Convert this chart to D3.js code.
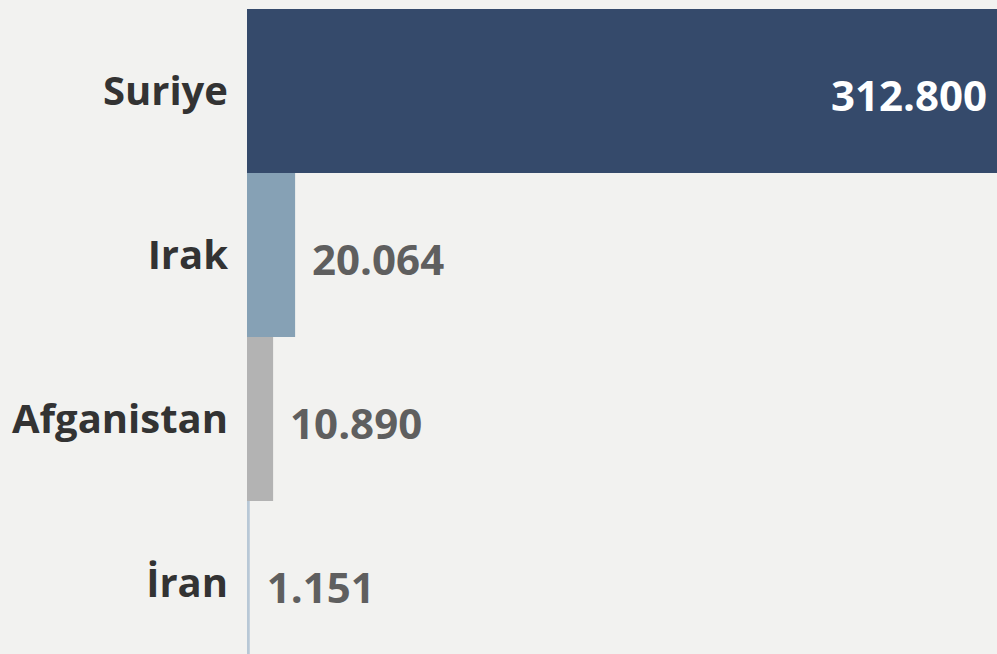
<!DOCTYPE html>
<html><head><meta charset="utf-8">
<script src="https://cdn.jsdelivr.net/npm/d3@7"></script>
<style>
html,body{margin:0;padding:0;background:#f2f2f0;overflow:hidden;}
svg{display:block;}
text{font-family:"Open Sans",sans-serif;font-weight:700;}
</style></head>
<body><svg id="c" width="997" height="654"></svg>
<script>
const categories = ["Suriye", "Irak", "Afganistan", "İran"];
const values = [312800, 20064, 10890, 1151];
const valueLabels = ["312.800", "20.064", "10.890", "1.151"];
const colors = ["#354a6b", "#86a1b5", "#b3b3b3", "#b8c8d6"];

const svg = d3.select("#c");
const x = d3.scaleLinear().domain([0, 312800]).range([247, 997]);
const y = d3.scaleBand().domain(categories).range([9, 665]).padding(0);

const data = categories.map((c, i) => ({c, v: values[i], l: valueLabels[i], col: colors[i]}));

svg.selectAll("rect.bar").data(data).join("rect")
  .attr("class", "bar")
  .attr("x", x(0))
  .attr("y", d => y(d.c))
  .attr("width", d => x(d.v) - x(0))
  .attr("height", y.bandwidth())
  .attr("fill", d => d.col);

svg.selectAll("text.cat").data(data).join("text")
  .attr("class", "cat")
  .attr("x", 228)
  .attr("y", d => y(d.c) + y.bandwidth() / 2)
  .attr("dy", "0.35em")
  .attr("text-anchor", "end")
  .attr("font-size", 40)
  .attr("fill", "#333333")
  .text(d => d.c);

svg.selectAll("text.val").data(data).join("text")
  .attr("class", "val")
  .attr("x", (d, i) => i === 0 ? x(d.v) - 10 : x(d.v) + 17)
  .attr("y", d => y(d.c) + y.bandwidth() / 2 + 5)
  .attr("dy", "0.35em")
  .attr("text-anchor", (d, i) => i === 0 ? "end" : "start")
  .attr("font-size", 42)
  .attr("fill", (d, i) => i === 0 ? "#ffffff" : "#5f5f5f")
  .text(d => d.l);
</script></body></html>
